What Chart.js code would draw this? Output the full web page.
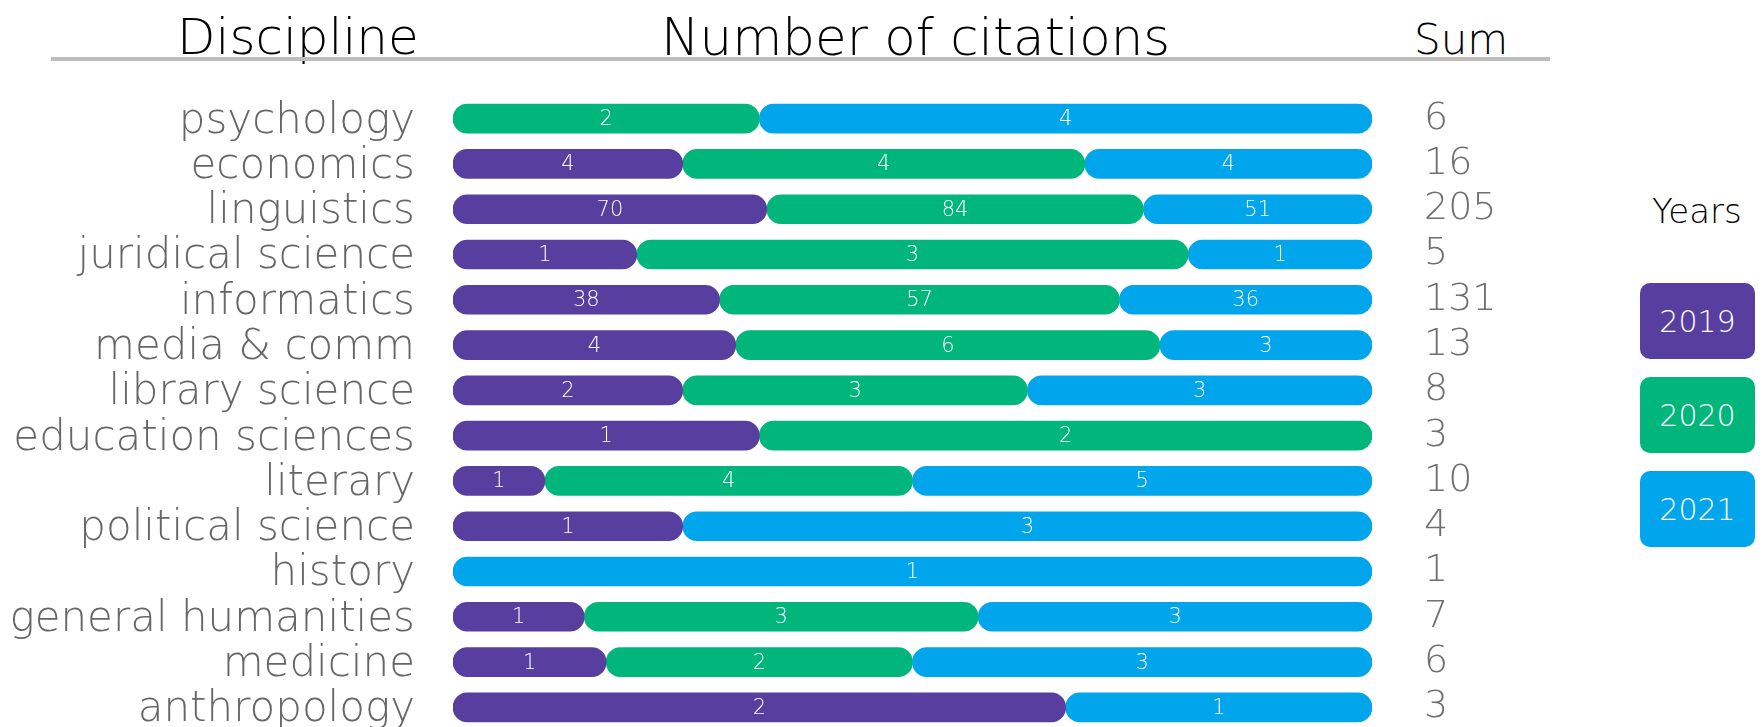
<!DOCTYPE html>
<html>
<head>
<meta charset="utf-8">
<script src="https://cdn.jsdelivr.net/npm/chart.js@4"></script>
<style>
  html, body { margin: 0; padding: 0; background: #fff; overflow: hidden; }
  body { width: 1764px; height: 727px; position: relative; font-family: "DejaVu Sans", sans-serif; }
  .head { position: absolute; font-weight: 200; color: #000; white-space: nowrap; }
  #rule { position: absolute; left: 51px; top: 57px; width: 1499px; height: 4px; background: #bdbdbd; }
  .key { position: absolute; left: 1640px; width: 115px; height: 76px; border-radius: 10px;
         color: #fff; font-size: 30px; font-weight: 200; display: flex; align-items: center; justify-content: center; }
  #chart { position: absolute; left: 0; top: 0; }
</style>
</head>
<body>
<div class="head" style="left:177px; top:12px; font-size:50px; line-height:50px;">Discipline</div>
<div class="head" style="left:661px; top:12px; font-size:51.5px; line-height:51.5px;">Number of citations</div>
<div class="head" style="left:1414px; top:19px; font-size:42px; line-height:42px;">Sum</div>
<div id="rule"></div>
<div class="head" style="left:1652px; top:194px; font-size:34px; line-height:34px;">Years</div>
<div class="key" style="top:283px; background:#583f9f;">2019</div>
<div class="key" style="top:377px; background:#00b67a;">2020</div>
<div class="key" style="top:471px; background:#00a5ec;">2021</div>
<canvas id="chart" width="1764" height="740"></canvas>
<script>
// Disciplinas, de arriba a abajo
const categories = ['psychology', 'economics', 'linguistics', 'juridical science', 'informatics',
  'media & comm', 'library science', 'education sciences', 'literary', 'political science',
  'history', 'general humanities', 'medicine', 'anthropology'];

// Citas por año (0 = sin segmento)
const cites2019 = [0, 4, 70, 1, 38, 4, 2, 1, 1, 1, 0, 1, 1, 2];
const cites2020 = [2, 7, 84, 3, 57, 6, 3, 2, 4, 0, 0, 3, 2, 0];
const cites2021 = [4, 5, 51, 1, 36, 3, 3, 0, 5, 3, 1, 3, 3, 1];

// Columna "Sum"
const sums = [6, 16, 205, 5, 131, 13, 8, 3, 10, 4, 1, 7, 6, 3];

const years = ['2019', '2020', '2021'];
const colors = ['#583f9f', '#00b67a', '#00a5ec'];

// Texto dentro de cada segmento (el original muestra 4 / 4 / 4 en economics)
const shown2019 = cites2019.map(v => v ? String(v) : '');
const shown2020 = cites2020.map(v => v ? String(v) : '');
const shown2021 = cites2021.map(v => v ? String(v) : '');
shown2020[1] = '4';
shown2021[1] = '4';

const allCites = [cites2019, cites2020, cites2021];
const allShown = [shown2019, shown2020, shown2021];
const rowTotal = categories.map((_, i) => cites2019[i] + cites2020[i] + cites2021[i]);

const segmentLabels = {
  id: 'segmentLabels',
  afterDatasetsDraw(chart) {
    const ctx = chart.ctx;
    ctx.save();
    ctx.font = '200 21px "DejaVu Sans"';
    ctx.fillStyle = '#ffffff';
    ctx.textAlign = 'center';
    ctx.textBaseline = 'middle';
    chart.data.datasets.forEach((ds, i) => {
      chart.getDatasetMeta(i).data.forEach((bar, j) => {
        const txt = allShown[i][j];
        if (!txt) return;
        ctx.fillText(txt, (bar.x + bar.base) / 2, bar.y + 1);
      });
    });
    ctx.restore();
  }
};

const pill = { topLeft: 15, topRight: 15, bottomLeft: 15, bottomRight: 15 };

// las etiquetas no deben empujar el área del gráfico
function fixAxis(width) {
  return s => {
    s.width = width;
    s.paddingTop = 0;
    s.paddingBottom = 0;
  };
}

new Chart(document.getElementById('chart'), {
  type: 'bar',
  data: {
    labels: categories,
    datasets: years.map((y, k) => ({
      label: y,
      data: allCites[k].map((v, i) => v ? v / rowTotal[i] : null),
      backgroundColor: colors[k],
      borderRadius: pill,
      borderSkipped: false,
      barThickness: 29
    }))
  },
  options: {
    indexAxis: 'y',
    responsive: false,
    animation: false,
    layout: { padding: { top: 96, bottom: 10, left: 0, right: 0 } },
    plugins: { legend: { display: false }, tooltip: { enabled: false } },
    scales: {
      x: { stacked: true, min: 0, max: 1, display: false },
      y: {
        stacked: true,
        offset: true,
        position: 'left',
        grid: { display: false },
        border: { display: false },
        ticks: {
          autoSkip: false,
          color: '#666666',
          padding: 30,
          labelOffset: 3,
          font: { family: '"DejaVu Sans"', size: 42, weight: 200 }
        },
        afterFit: fixAxis(453)
      },
      y2: {
        type: 'category',
        labels: sums.map(String),
        offset: true,
        position: 'right',
        grid: { display: false },
        border: { display: false },
        ticks: {
          autoSkip: false,
          color: '#707070',
          padding: 44,
          font: { family: '"DejaVu Sans"', size: 38, weight: 200 }
        },
        afterFit: fixAxis(392)
      }
    }
  },
  plugins: [segmentLabels]
});
</script>
</body>
</html>
